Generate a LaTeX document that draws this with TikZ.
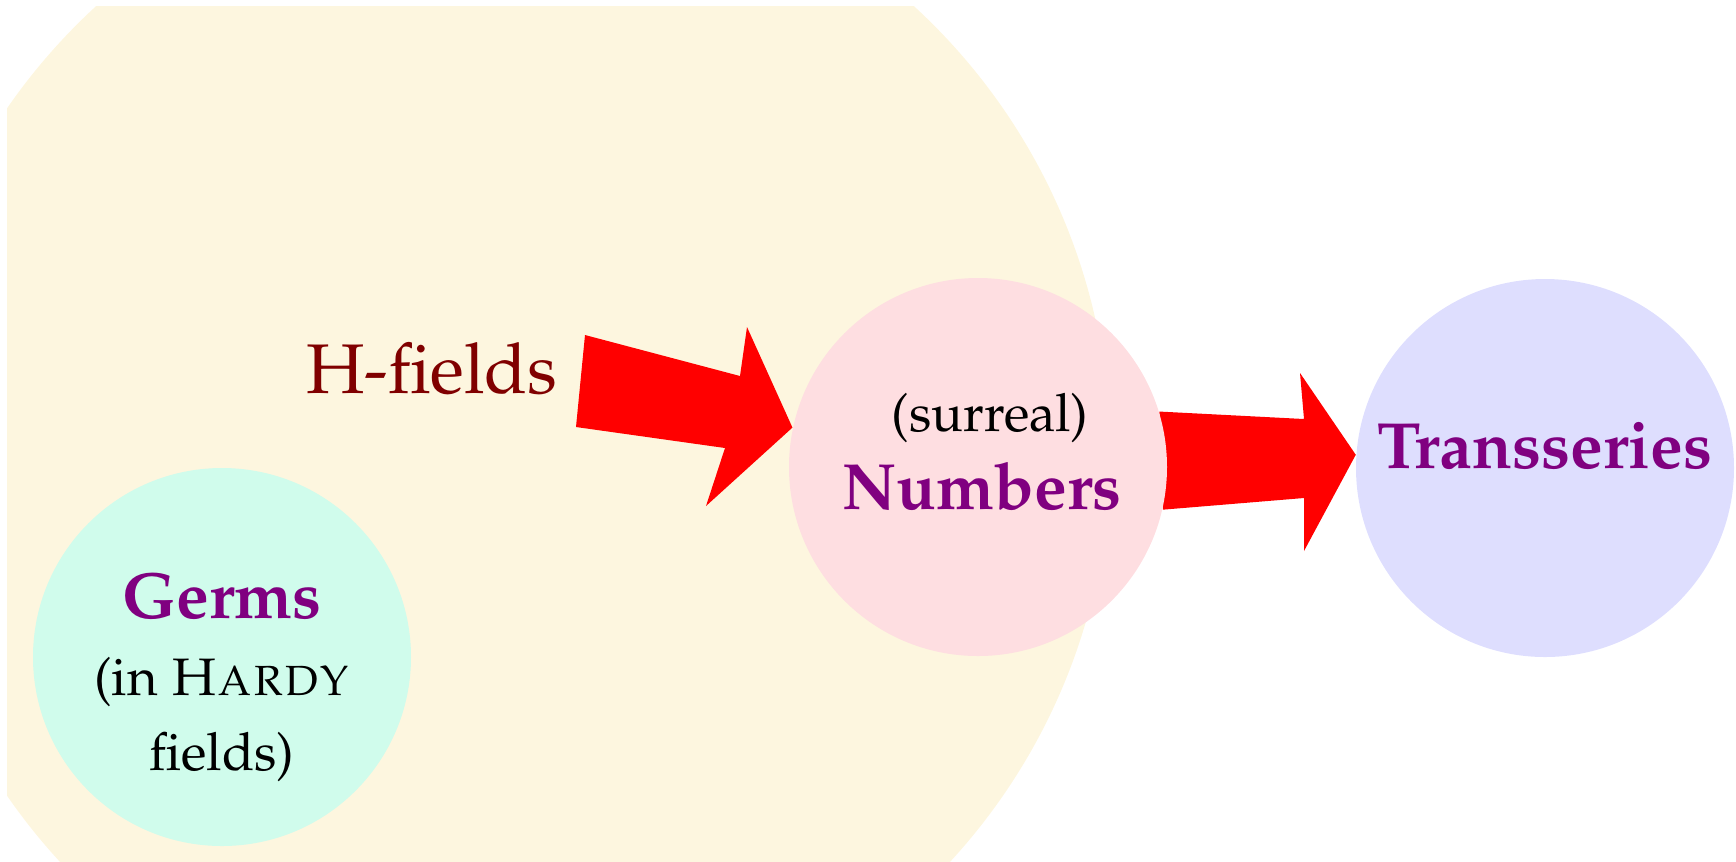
\documentclass[tikz,border=0pt]{standalone}
\usepackage[T1]{fontenc}
\usepackage{mathpazo}
\usetikzlibrary{backgrounds}

\definecolor{hfbg}{RGB}{253,246,223}
\definecolor{germbg}{RGB}{208,252,236}
\definecolor{numbg}{RGB}{254,222,225}
\definecolor{transbg}{RGB}{222,222,254}
\definecolor{titlepurple}{RGB}{128,0,128}
\definecolor{hfred}{RGB}{128,0,0}

\tikzset{
    tr set/.style={circle, inner sep=0pt, minimum size=37.8mm},
    tr title/.style={anchor=base, text=titlepurple,
                     font=\fontsize{18.6}{23}\selectfont\bfseries},
    tr note/.style={anchor=base, align=center,
                    font=\fontsize{15}{21.3}\selectfont},
    tr hlabel/.style={anchor=base, text=hfred,
                      font=\fontsize{20}{24}\selectfont},
    tr arrow/.style={fill=red},
}

\begin{document}
\begin{tikzpicture}[x=0.1mm, y=-0.1mm]
    \useasboundingbox (0,0) rectangle (1736,861);
    % Sets
    \node[tr set, fill=germbg]  (germs)   at (222,657)  {};
    \node[tr set, fill=numbg]   (numbers) at (978,467)  {};
    \node[tr set, fill=transbg] (trans)   at (1545,468) {};
    % H-field region, cut by the page
    \begin{scope}[on background layer]
        \clip (7,6) rectangle (1736,861);
        \node[tr set, fill=hfbg, minimum size=121mm] (hfields) at (505,452) {};
    \end{scope}
    % Fat arrows go under the sets
    \begin{scope}[on background layer]
        \fill[tr arrow] (585,335) -- (740,376) -- (747,327) -- (numbers.168)
            -- (706,506) -- (725,448) -- (576,427) -- cycle;
        \fill[tr arrow] (numbers.17) -- (1304,419) -- (1300,373) -- (trans.176)
            -- (1304,551) -- (1304,498) -- (numbers.-13) -- cycle;
    \end{scope}
    % Labels
    \node[tr hlabel] (hlabel) at (432,393) {H-fields};
    \node[tr title] (germs title) at ([yshift=3.9mm]germs.center) {Germs};
    \node[tr note] (germs note) at ([yshift=-11.3mm]germs.center)
        {(in \textsc{Hardy}\\fields)};
    \node[tr note] (numbers note) at ([xshift=1.2mm,yshift=3.6mm]numbers.center) {(surreal)};
    \node[tr title] (numbers title) at ([xshift=0.4mm,yshift=-4.2mm]numbers.center) {Numbers};
    \node[tr title] (trans title) at (trans.center) {Transseries};
\end{tikzpicture}
\end{document}
